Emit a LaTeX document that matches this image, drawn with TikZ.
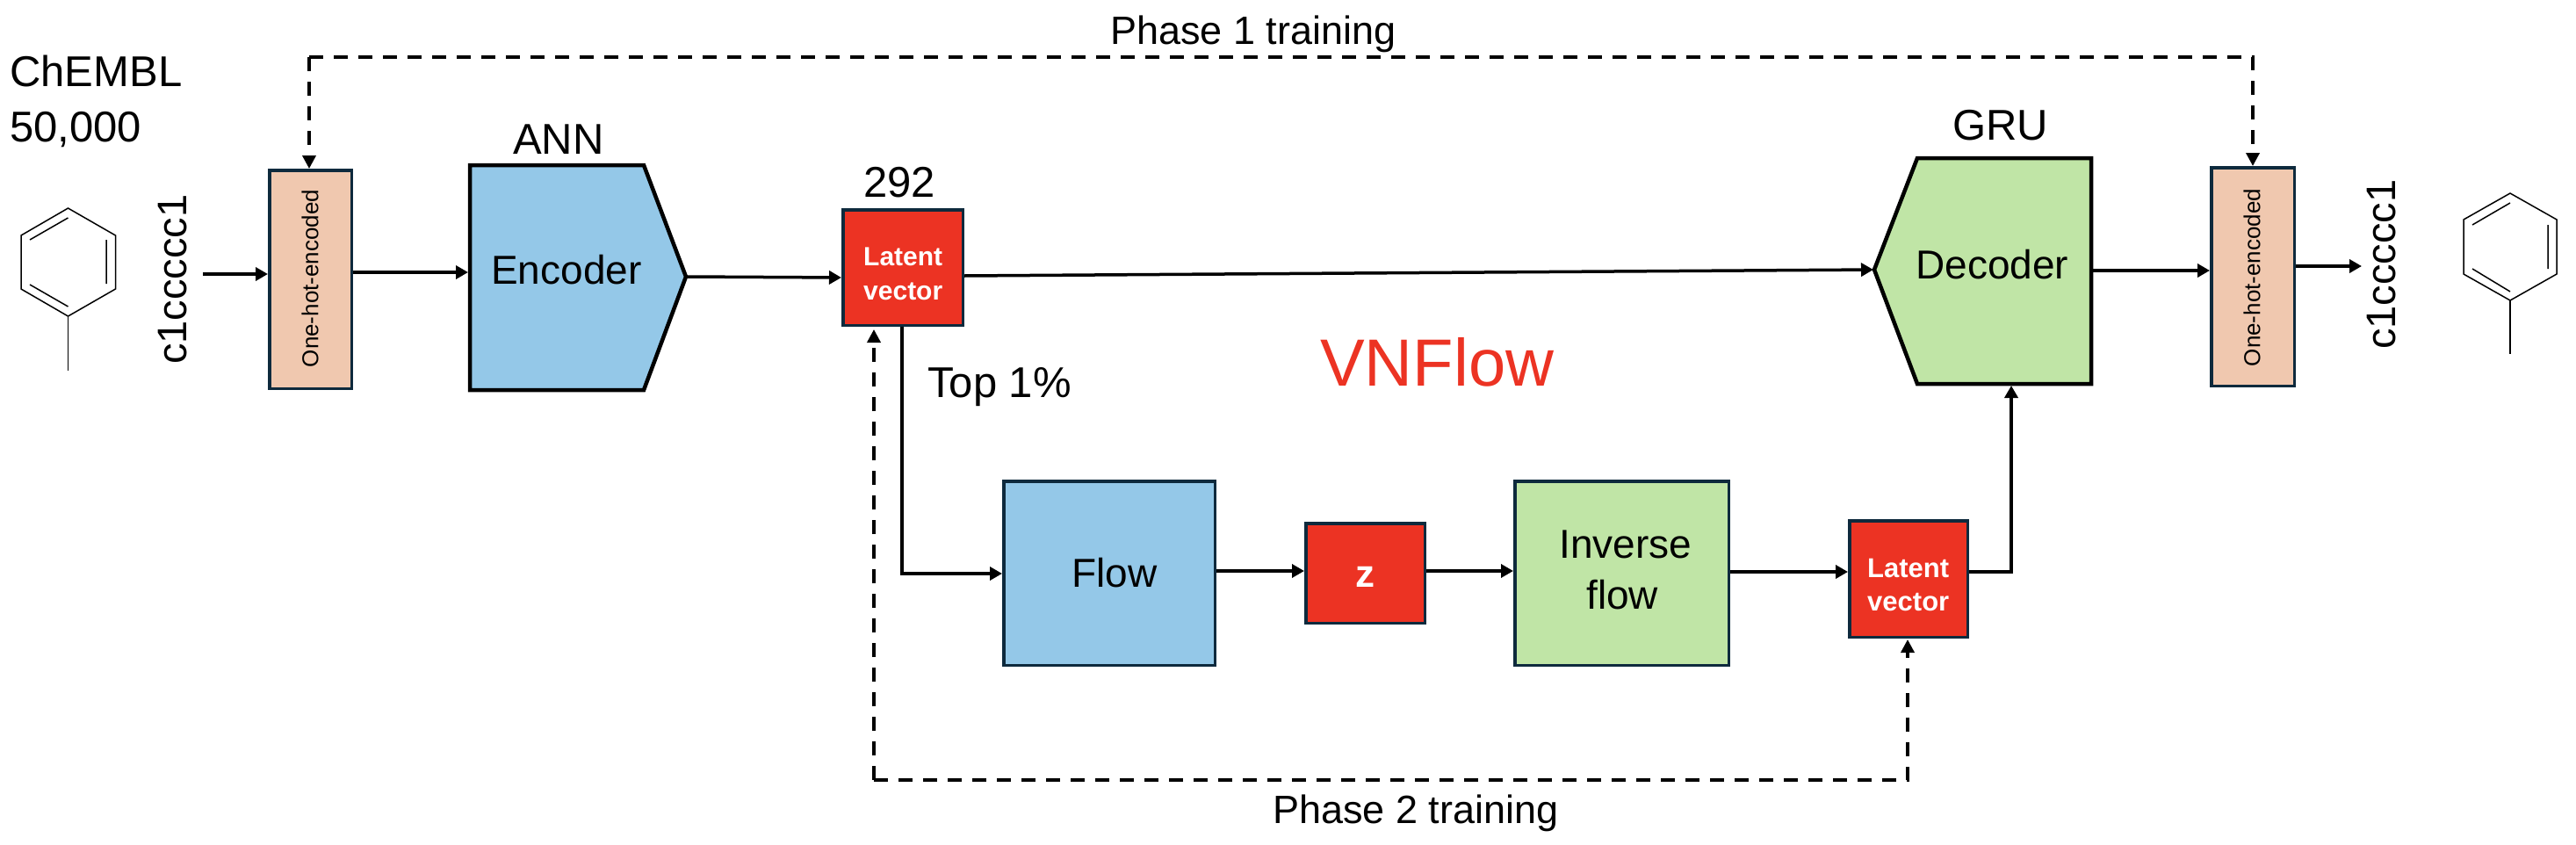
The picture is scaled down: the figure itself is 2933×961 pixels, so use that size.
\documentclass[tikz,border=0pt]{standalone}
\usepackage{fontspec}
\setmainfont{Liberation Sans}
\usetikzlibrary{arrows.meta,calc}
\definecolor{boxblue}{HTML}{94C8E8}
\definecolor{boxgreen}{HTML}{C0E5A6}
\definecolor{boxred}{HTML}{EC3323}
\definecolor{boxpeach}{HTML}{F0C8AF}
\definecolor{edge}{HTML}{0E2A3D}
\newcommand{\fs}[1]{\fontsize{#1}{#1}\selectfont}
\tikzset{x=1pt,y=-1pt,
 block/.style={draw=edge,line width=3.5pt,inner sep=0pt,anchor=north west},
 flowline/.style={draw=black,line width=3.5pt,-{Triangle[length=14pt,width=15pt]}},
 dashline/.style={draw=black,line width=3.5pt,dash pattern=on 16pt off 12pt},
 dashhead/.style={dashline,-{Triangle[length=15pt,width=15pt]}},
 lab/.style={inner sep=0pt,anchor=base west,text=black},
 mol/.style={draw=black,line width=1.5pt,line join=miter}}
\begin{document}
\begin{tikzpicture}
\useasboundingbox (0,0) rectangle (2933,961);
% boxes
\node[block,fill=boxpeach,minimum width=93.5pt,minimum height=248.5pt] (ohea) at (305,192) {};
\node[rotate=90,inner sep=0pt] at (353,317) {\fs{26}One-hot-encoded};
\draw[fill=boxblue,draw=black,line width=4.5pt] (535,188)--(733,188)--(781,315)--(733,444)--(535,444)--cycle;
\coordinate (enco) at (782,315);
\node[block,fill=boxred,minimum width=136.5pt,minimum height=131.5pt] (lata) at (958,237) {};
\draw[fill=boxgreen,draw=black,line width=4.5pt] (2183,180)--(2381,180)--(2381,437)--(2183,437)--(2134,307)--cycle;
\coordinate (deco) at (2133,307);
\node[block,fill=boxpeach,minimum width=94.5pt,minimum height=248.5pt] (oheb) at (2516,189) {};
\node[rotate=90,inner sep=0pt] at (2564,316) {\fs{26}One-hot-encoded};
\node[block,fill=boxblue,minimum width=240.5pt,minimum height=209.5pt] (flowb) at (1141,546) {};
\node[block,fill=boxred,minimum width=135.5pt,minimum height=113.5pt] (zb) at (1485,594) {};
\node[block,fill=boxgreen,minimum width=243.5pt,minimum height=209.5pt] (invb) at (1723,546) {};
\node[block,fill=boxred,minimum width=134.5pt,minimum height=132.5pt] (latb) at (2104,591) {};
% labels
\node[lab] at (11,98) {\fs{49}ChEMBL};
\node[lab] at (11,161) {\fs{49}50,000};
\node[lab] at (584,175) {\fs{49}ANN};
\node[lab] at (2223,159) {\fs{49}GRU};
\node[lab] at (559,323) {\fs{46}Encoder};
\node[lab] at (2181,317) {\fs{46}Decoder};
\node[lab] at (1220,668) {\fs{46}Flow};
\node[lab] at (1775,635) {\fs{46}Inverse};
\node[lab] at (1806,693) {\fs{46}flow};
\node[lab,text=white] at (1543,668) {\fs{44}\bfseries z};
\node[lab,text=white] at (2126,657) {\fs{31}\bfseries Latent};
\node[lab,text=white] at (2126,695) {\fs{31}\bfseries vector};
\node[lab,text=white] at (983,302) {\fs{30}\bfseries Latent};
\node[lab,text=white] at (983,341) {\fs{30}\bfseries vector};
\node[lab] at (983,224) {\fs{49}292};
\node[lab] at (1056,452) {\fs{49}Top 1\%};
\node[lab,text=boxred] at (1503,439) {\fs{76}VNFlow};
\node[lab] at (1264,50) {\fs{45}Phase 1 training};
\node[lab] at (1449,937) {\fs{45}Phase 2 training};
\node[lab,rotate=90] at (212,415) {\fs{47}c1ccccc1};
\node[lab,rotate=90] at (2727,398) {\fs{47}c1ccccc1};
% connectors
\coordinate (ina) at (231,312);
\coordinate (outb) at (2689,303);
\draw[flowline] (ina) -- (ohea.west |- ina);
\draw[flowline] (ohea.east |- 0,310) -- (533,310);
\draw[flowline] (enco) -- (lata.west |- 0,316);
\draw[flowline] (lata.east |- 0,314) -- (deco);
\draw[flowline] (2383,308) -- (oheb.west |- 0,308);
\draw[flowline] (oheb.east |- outb) -- (outb);
\draw[flowline] (lata.south -| 1027,0) |- (flowb.west |- 0,653);
\draw[flowline] (flowb.east |- 0,650) -- (zb.west |- 0,650);
\draw[flowline] (zb.east |- 0,650) -- (invb.west |- 0,650);
\draw[flowline] (invb.east |- 0,651) -- (latb.west |- 0,651);
\draw[flowline] (latb.east |- 0,651) -| (2290,439);
\draw[dashhead] (352,65) -- (352,192);
\draw[dashhead] (352,65) -- (2565,65) -- (2565,189);
\draw[dashhead] (995,888) -- (995,375);
\draw[dashhead] (995,888) -- (2172,888) -- (2172,728);
% molecules
\draw[mol] (77.5,237)--(131.5,268)--(131.5,329)--(77.5,360)--(24,329)--(24,268)--cycle;
\draw[mol] (77.5,360)--(77.5,422);
\draw[mol] (34,273)--(77.5,248) (121,273)--(121,323) (34,324)--(77.5,349);
\draw[mol] (2858,220)--(2911,250)--(2911,312)--(2858,342)--(2805,312)--(2805,250)--cycle;
\draw[mol] (2858,342)--(2858,403);
\draw[mol] (2815,256)--(2858,231) (2901,256)--(2901,306) (2815,306)--(2858,332);
\end{tikzpicture}
\end{document}
